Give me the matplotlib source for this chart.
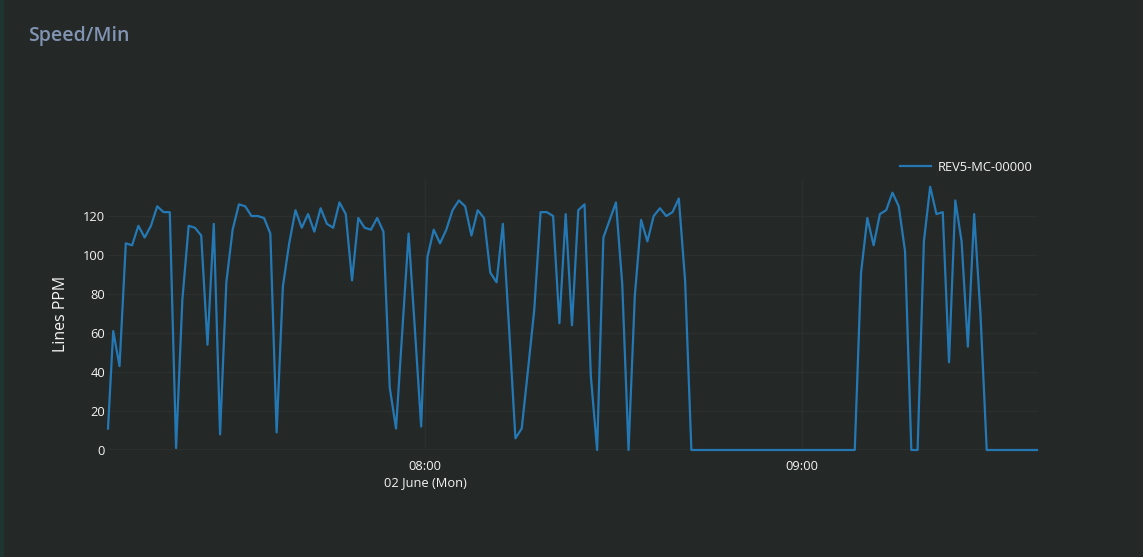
import matplotlib
matplotlib.use("Agg")
import matplotlib.pyplot as plt
from matplotlib.patches import Rectangle
from matplotlib.lines import Line2D
import pandas as pd

plt.rcParams["font.family"] = ["Open Sans", "DejaVu Sans"]

# ---------------- data ----------------
title = "Speed/Min"
y_label = "Lines PPM"
series_name = "REV5-MC-00000"

first_time = "2025-06-02 07:09:33"
first_value = 11
series_start = "2025-06-02 07:10:23"   # one sample per minute from here
ppm = [
    61, 43, 106, 105, 115, 109, 115, 125, 122, 122,
    1, 77, 115, 114, 110, 54, 116, 8, 86, 113,
    126, 125, 120, 120, 119, 111, 9, 84, 106, 123,
    114, 121, 112, 124, 116, 114, 127, 121, 87, 119,
    114, 113, 119, 112, 32, 11, 61, 111, 62, 12,
    99, 113, 106, 113, 123, 128, 125, 110, 123, 119,
    91, 86, 116, 62, 6, 11, 41, 72, 122, 122,
    120, 65, 121, 64, 123, 126, 38, 0, 109, 118,
    127, 85, 0, 79, 118, 107, 120, 124, 120, 122,
    129, 87, 0, 0, 0, 0, 0, 0, 0, 0,
    0, 0, 0, 0, 0, 0, 0, 0, 0, 0,
    0, 0, 0, 0, 0, 0, 0, 0, 0, 91,
    119, 105, 121, 123, 132, 125, 102, 0, 0, 107,
    135, 121, 122, 45, 128, 107, 53, 121, 70, 0,
    0, 0, 0, 0, 0, 0, 0, 0,
]
y_ticks = [0, 20, 40, 60, 80, 100, 120]
x_tick_times = ["2025-06-02 08:00", "2025-06-02 09:00"]
x_tick_labels = ["08:00\n02 June (Mon)", "09:00"]

times = [pd.Timestamp(first_time)] + list(pd.date_range(series_start, periods=len(ppm), freq="min"))
values = [first_value] + ppm

# ---------------- style ----------------
BG = "#242827"
GRID = "#2b2f2e"
TXT = "#f4f4f4"
LINE = "#2479b5"
FS = 9.3

W, H = 1143, 557
fig = plt.figure(figsize=(W / 100, H / 100), dpi=100, facecolor=BG)
fig.patches.append(Rectangle((0, 0), 4 / W, 1, transform=fig.transFigure,
                             facecolor="#1e3531", edgecolor="none", zorder=0))

ax = fig.add_axes([108 / W, (H - 450) / H, 929 / W, 271 / H])
ax.set_facecolor(BG)

ax.plot(times, values, color=LINE, lw=1.6, clip_on=False, zorder=3)

ax.set_xlim(times[0], times[-1])
ax.set_ylim(0, 139)
ax.set_yticks(y_ticks)
ax.set_xticks([pd.Timestamp(t) for t in x_tick_times])
ax.set_xticklabels(x_tick_labels)

ax.grid(True, color=GRID, lw=1, zorder=0)
ax.axhline(0, color="#4b4e4d", lw=1, zorder=1)
for s in ax.spines.values():
    s.set_visible(False)
ax.tick_params(axis="both", length=0, colors=TXT, labelsize=FS)
ax.tick_params(axis="y", pad=2)
ax.tick_params(axis="x", pad=7)
for lab in ax.get_xticklabels():
    lab.set_linespacing(1.3)

fig.text(61 / W, 1 - 314 / H, y_label, rotation=90, ha="center", va="center",
         color=TXT, fontsize=11.5)
fig.text(28 / W, 1 - 36 / H, title, ha="left", va="center",
         color="#8194b3", fontsize=14, fontweight="semibold")

handle = Line2D([], [], color=LINE, lw=1.6)
fig.legend([handle], [series_name], loc="center left",
           bbox_to_anchor=(900 / W, 1 - 167 / H), frameon=False,
           handlelength=2.4, handletextpad=0.5, fontsize=FS, labelcolor=TXT,
           borderaxespad=0, borderpad=0)

fig.savefig("out.png", dpi=100, facecolor=BG)
